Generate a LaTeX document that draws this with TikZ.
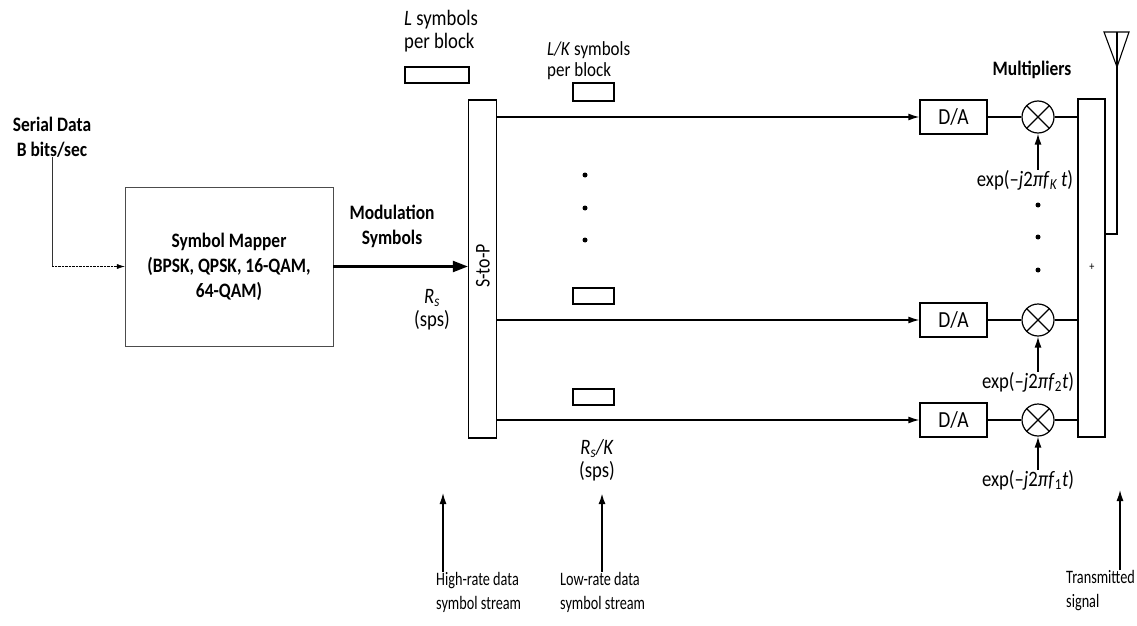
\documentclass[tikz,border=0pt]{standalone}
\usepackage{fontspec}
\setmainfont{Carlito}[FakeStretch=0.85]
\newfontfamily\notefont{Carlito}[FakeStretch=0.75]
\usetikzlibrary{arrows.meta,positioning,calc}

\begin{document}
\begin{tikzpicture}[x=1pt,y=-1pt,
    box/.style={draw,line width=1.3pt,minimum width=67pt,minimum height=34pt,inner sep=0pt,font=\fontsize{23}{24}\selectfont},
    blk/.style={draw,line width=1.3pt,minimum width=41pt,minimum height=16pt,inner sep=0pt},
    mult/.style={draw,line width=1.2pt,circle,minimum size=32pt,inner sep=0pt},
    bar/.style={draw,line width=1.3pt,minimum width=28pt,minimum height=338pt,inner sep=0pt},
    lbl/.style={font=\fontsize{22}{23}\selectfont,align=center,inner sep=0pt},
    blbl/.style={font=\fontsize{20.5}{25}\selectfont\bfseries,align=center,inner sep=0pt},
    note/.style={font=\notefont\fontsize{19}{24}\selectfont,align=left,inner sep=0pt,anchor=north west},
    dot/.style={circle,fill,inner sep=0pt,minimum size=5pt},
    >={Latex[length=11pt,width=7pt]}
]
\useasboundingbox (0,0) rectangle (1137,626);

% input and symbol mapper
\node[blbl] (serial) at (52,137) {Serial Data\\B bits/sec};
\coordinate (bend) at (52,266.5);
\node[blbl,draw=black!70,thin,minimum width=208pt,minimum height=159pt] (mapper) at (229,266.5) {Symbol Mapper\\(BPSK, QPSK, 16-QAM,\\64-QAM)};
\draw[black!80] (serial.south) -- (bend);
\draw[-{Latex[length=8pt,width=5pt]},densely dotted] (bend) -- (mapper.west);

% serial to parallel
\node[bar] (s2p) at (482.5,269) {};
\node[lbl,rotate=90,font=\fontsize{21}{21}\selectfont] (s2plbl) at (483,266) {S-to-P};
\draw[line width=2.2pt,-{Triangle[length=15pt,width=11pt]}] (mapper.east) -- (mapper.east -| s2p.west);
\node[blbl] (modlbl) at (392,226) {Modulation\\Symbols};
\node[lbl] (rate) at (432,310) {\textit{R}\textsubscript{\textit{s}}\\(sps)};

\node[lbl,anchor=west,align=left] (Llbl) at (404,31) {\textit{L} symbols\\per block};
\node[blk,minimum width=64pt] (Lblk) at (437,75) {};
\node[lbl,anchor=west,align=left,font=\fontsize{20}{21}\selectfont] (LKlbl) at (547,61) {\textit{L/K} symbols\\per block};

% parallel branches
\node[blk,minimum height=18pt] (blkK) at (593.5,92) {};
\node[blk] (blk2) at (593.5,296) {};
\node[blk] (blk1) at (593.5,397) {};
\node[lbl] (ratek) at (597,460) {\textit{R}\textsubscript{\textit{s}}\textit{/K}\\(sps)};

\node[box] (daK) at (953.5,117) {D/A};
\node[box] (da2) at (953.5,320) {D/A};
\node[box] (da1) at (953.5,420) {D/A};
\node[mult] (mK) at (1038,117) {};
\node[mult] (m2) at (1038,320) {};
\node[mult] (m1) at (1038,420) {};
\foreach \n in {K,2,1} {
  \draw[line width=1.2pt] (m\n.45) -- (m\n.225) (m\n.135) -- (m\n.315);
  \draw[->,line width=1.4pt] (da\n.west -| s2p.east) -- (da\n.west);
  \draw[line width=1.2pt] (da\n) -- (m\n);
}
\node[blbl] (multlbl) at (1032,70) {Multipliers};

% summer and antenna
\node[bar,minimum width=27pt] (sum) at (1091.5,268) {};
\node[inner sep=0pt,font=\fontsize{12}{12}\selectfont] (plus) at (1092,267) {+};
\foreach \n in {K,2,1}
  \draw[line width=1.2pt] (m\n) -- (m\n -| sum.west);
\coordinate (feed) at (1117,234);
\coordinate (ant) at (1117,32);
\draw[line width=1.3pt] (feed -| sum.east) -- (feed) -- (ant);
\draw[line width=1.1pt] (1104,32) -- (1129,32) -- (1117,67) -- cycle;

% carriers
\node[lbl] (expK) at (1025,180) {exp(–\textit{j}2\textit{πf}\textsubscript{\textit{K}}\,\textit{t})};
\node[lbl] (exp2) at (1028,382) {exp(–\textit{j}2\textit{πf}\textsubscript{2}\textit{t})};
\node[lbl] (exp1) at (1028,480) {exp(–\textit{j}2\textit{πf}\textsubscript{1}\textit{t})};
\foreach \n in {K,2,1}
  \draw[->,line width=1.4pt] (exp\n.north -| m\n) -- (m\n);

% dots
\foreach \y in {175,208,240} \node[dot] at (585,\y) {};
\foreach \y in {205,237,270} \node[dot] at (1038,\y) {};

% bottom notes
\node[note] (hirate) at (436,572) {High-rate data\\symbol stream};
\node[note] (lorate) at (560,572) {Low-rate data\\symbol stream};
\node[note] (txsig) at (1066,570) {Transmitted\\signal};
\coordinate (hitip) at (443,493);
\coordinate (lotip) at (602,493);
\coordinate (txtip) at (1120,490);
\draw[->,line width=1.3pt] (hitip |- hirate.north) -- (hitip);
\draw[->,line width=2pt] (lotip |- lorate.north) -- (lotip);
\draw[->,line width=1.3pt] (txtip |- txsig.north) -- (txtip);
\end{tikzpicture}
\end{document}
